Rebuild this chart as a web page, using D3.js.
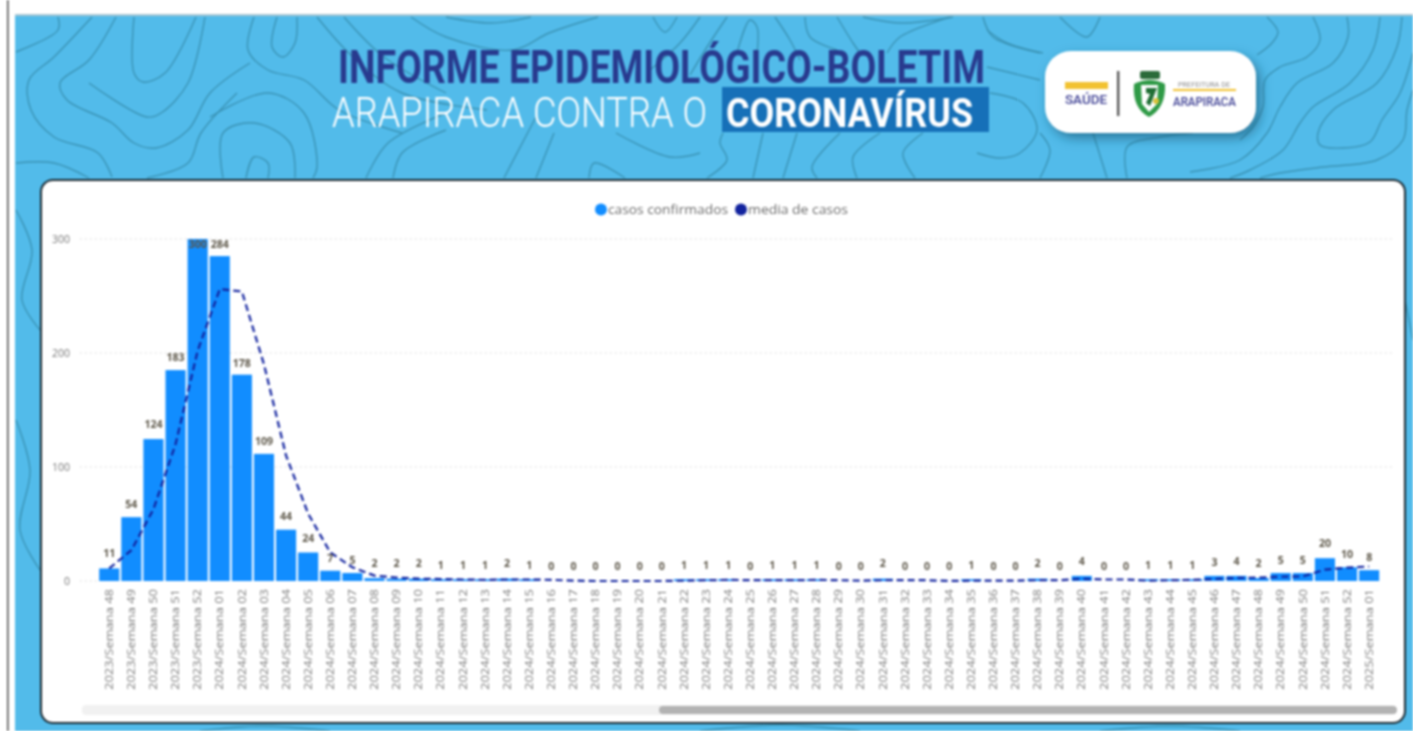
<!DOCTYPE html>
<html>
<head>
<meta charset="utf-8">
<script src="https://cdn.jsdelivr.net/npm/d3@7"></script>
<style>
html, body { margin: 0; padding: 0; background: #fff; overflow: hidden; }
svg { display: block; filter: blur(0.8px); }
</style>
</head>
<body>
<svg id="chart"></svg>
<script>
const width = 1413;
const height = 731;

// chart data
const categories = [
    "2023/Semana 48", "2023/Semana 49", "2023/Semana 50", "2023/Semana 51", "2023/Semana 52",
    "2024/Semana 01", "2024/Semana 02", "2024/Semana 03", "2024/Semana 04", "2024/Semana 05",
    "2024/Semana 06", "2024/Semana 07", "2024/Semana 08", "2024/Semana 09", "2024/Semana 10",
    "2024/Semana 11", "2024/Semana 12", "2024/Semana 13", "2024/Semana 14", "2024/Semana 15",
    "2024/Semana 16", "2024/Semana 17", "2024/Semana 18", "2024/Semana 19", "2024/Semana 20",
    "2024/Semana 21", "2024/Semana 22", "2024/Semana 23", "2024/Semana 24", "2024/Semana 25",
    "2024/Semana 26", "2024/Semana 27", "2024/Semana 28", "2024/Semana 29", "2024/Semana 30",
    "2024/Semana 31", "2024/Semana 32", "2024/Semana 33", "2024/Semana 34", "2024/Semana 35",
    "2024/Semana 36", "2024/Semana 37", "2024/Semana 38", "2024/Semana 39", "2024/Semana 40",
    "2024/Semana 41", "2024/Semana 42", "2024/Semana 43", "2024/Semana 44", "2024/Semana 45",
    "2024/Semana 46", "2024/Semana 47", "2024/Semana 48", "2024/Semana 49", "2024/Semana 50",
    "2024/Semana 51", "2024/Semana 52", "2025/Semana 01"
];
// the numbers printed over the bars
const rotulos = [
    11, 54, 124, 183, 300, 284, 178, 109, 44, 24, 7, 5, 2, 2, 2, 1, 1, 1, 2, 1,
    0, 0, 0, 0, 0, 0, 1, 1, 1, 0, 1, 1, 1, 0, 0, 2, 0, 0, 0, 1,
    0, 0, 2, 0, 4, 0, 0, 1, 1, 1, 3, 4, 2, 5, 5, 20, 10, 8
];
// bar heights as measured, a little over the printed number in places
const casos = [
    11, 56, 124.5, 185, 300, 285, 181, 111.5, 45, 25, 9, 7, 2.5, 2, 2, 1.5, 1.5, 1.5, 2, 1.5,
    0, 0, 0, 0, 0, 0, 1.5, 1.5, 1.5, 0, 1.5, 1.5, 1.5, 0, 0, 2, 0, 0, 0, 1.5,
    0, 0, 2, 0, 4.5, 0, 0, 1.5, 1.5, 1.5, 4.5, 4.5, 2.5, 7, 7, 20, 12, 9.5
];
const media = [
    11, 27, 63, 120, 202, 256, 254, 190, 110, 59, 25, 12, 4.7, 3, 2, 1.7, 1.3, 1, 1.3, 1.3,
    1, 0.3, 0, 0, 0, 0, 0.3, 0.7, 1, 0.7, 0.7, 0.7, 1, 0.7, 0.3, 0.7, 0.7, 0.7, 0, 0.3,
    0.3, 0.3, 0.7, 0.7, 2, 1.3, 1.3, 0.3, 0.7, 1, 1.7, 2.7, 3, 3.7, 4, 10, 11.7, 12.7
];
const yTicks = [0, 100, 200, 300];

// decorative contour lines of the banner background
const contours = [
    [[16,52],[58,30],[58,17]],
    [[92,17],[54,57],[29,80],[31,110],[54,137],[98,153],[112,177]],
    [[116,17],[89,60],[60,83],[67,100],[112,123],[134,143],[156,148],[188,130],[210,93],[250,63]],
    [[134,17],[134,73],[143,82],[165,73],[196,17]],
    [[89,83],[147,117],[161,113],[188,83],[205,17]],
    [[277,17],[272,47],[283,57],[295,43],[297,17]],
    [[254,17],[248,50],[268,70],[304,80],[339,110],[402,133]],
    [[317,17],[353,57],[402,93],[487,110]],
    [[344,17],[384,57],[446,93]],
    [[411,17],[446,37],[513,50],[549,33],[598,17]],
    [[446,17],[491,23],[531,17]],
    [[210,117],[268,93],[304,113],[317,167],[313,178]],
    [[223,178],[223,133],[254,123],[290,143],[295,178]],
    [[246,178],[254,157],[268,163],[268,178]],
    [[147,178],[188,163],[201,133],[237,93]],
    [[16,163],[54,163],[89,178]],
    [[366,178],[388,143],[446,113]],
    [[393,178],[402,153],[446,130]],
    [[589,178],[594,163],[625,178]],
    [[616,133],[670,157],[700,153]],
    [[536,117],[504,178]],
    [[554,133],[536,178]],
    [[653,17],[665,32],[677,17]],
    [[700,17],[680,43],[650,70]],
    [[727,17],[707,47],[690,75]],
    [[737,53],[750,20],[757,27],[757,53]],
    [[775,17],[790,40],[800,60]],
    [[805,17],[810,37],[837,50]],
    [[837,17],[853,43],[860,53]],
    [[863,17],[900,23],[953,17]],
    [[950,17],[900,37],[887,53]],
    [[983,17],[993,37],[1040,53]],
    [[987,67],[1040,80]],
    [[990,93],[1023,103],[1037,130],[1020,153],[1000,158],[977,153]],
    [[840,133],[812,167],[817,178]],
    [[763,133],[753,178]],
    [[797,133],[783,178]],
    [[723,133],[720,143],[727,160],[707,178]],
    [[880,133],[853,157],[857,178]],
    [[923,133],[903,153],[915,178]],
    [[987,30],[1007,43],[1043,53]],
    [[1060,17],[1087,37],[1100,17]],
    [[1093,133],[1107,178]],
    [[1127,178],[1127,147],[1160,137],[1193,133]],
    [[1040,133],[1050,150],[1040,178]],
    [[1267,17],[1278,32],[1272,43],[1257,55]],
    [[1313,17],[1320,40],[1307,57],[1280,67],[1265,80],[1263,107],[1253,127],[1240,140]],
    [[1347,17],[1348,37],[1333,63],[1297,83],[1280,107],[1267,133],[1240,160],[1190,172]],
    [[1380,17],[1373,50],[1350,83],[1313,107],[1300,123],[1283,150],[1250,170],[1230,178]],
    [[1402,17],[1397,47],[1377,83],[1333,110],[1318,133],[1320,145],[1343,148],[1370,142],[1382,120],[1400,93],[1413,53]],
    [[1413,90],[1407,110],[1403,140],[1377,160],[1323,167],[1280,173],[1260,178]],
    [[16,210],[32,250],[22,300],[40,330]],
    [[16,420],[30,470],[20,530],[40,570]],
    [[1405,300],[1413,340]],
    [[200,731],[260,726],[330,731]],
    [[700,731],[780,725],[860,731]],
    [[1100,731],[1170,726],[1240,731]]
];

const svg = d3.select("#chart")
    .attr("width", width)
    .attr("height", height);

// page background and banner
svg.append("rect").attr("width", width).attr("height", height).attr("fill", "#fff");
svg.append("rect").attr("x", 7).attr("y", 0).attr("width", 1.6).attr("height", height).attr("fill", "#555");
svg.append("rect").attr("x", 15).attr("y", 14).attr("width", width - 15).attr("height", height - 14).attr("fill", "#52bbea");
svg.append("rect").attr("x", 15).attr("y", 14).attr("width", width - 15).attr("height", 2).attr("fill", "#a9c6d3");

const contourLine = d3.line().curve(d3.curveCatmullRom.alpha(0.5));
svg.append("g")
    .selectAll("path")
    .data(contours)
    .enter()
    .append("path")
    .attr("d", contourLine)
    .attr("fill", "none")
    .attr("stroke", "#3a93b5")
    .attr("stroke-width", 1.4);

// title
svg.append("text")
    .attr("x", 338).attr("y", 83)
    .attr("textLength", 647).attr("lengthAdjust", "spacingAndGlyphs")
    .style("font", "700 46px Roboto")
    .attr("fill", "#283a8e")
    .text("INFORME EPIDEMIOLÓGICO-BOLETIM");
svg.append("text")
    .attr("x", 332).attr("y", 127)
    .attr("textLength", 375).attr("lengthAdjust", "spacingAndGlyphs")
    .style("font", "300 43px Roboto")
    .attr("fill", "#fff")
    .text("ARAPIRACA CONTRA O");
svg.append("rect").attr("x", 722).attr("y", 87).attr("width", 267).attr("height", 45).attr("fill", "#1670b8");
svg.append("text")
    .attr("x", 726).attr("y", 127)
    .attr("textLength", 247).attr("lengthAdjust", "spacingAndGlyphs")
    .style("font", "700 41px Roboto")
    .attr("fill", "#fff")
    .text("CORONAVÍRUS");

// logo badge
const defs = svg.append("defs");
const shadow = defs.append("filter").attr("id", "logoShadow")
    .attr("x", "-20%").attr("y", "-30%").attr("width", "140%").attr("height", "170%");
shadow.append("feDropShadow")
    .attr("dx", 4).attr("dy", 5).attr("stdDeviation", 6)
    .attr("flood-color", "#1d5b78").attr("flood-opacity", 0.7);

const logo = svg.append("g");
logo.append("rect")
    .attr("x", 1045).attr("y", 51).attr("width", 211).attr("height", 82).attr("rx", 26)
    .attr("fill", "#fff").attr("filter", "url(#logoShadow)");
logo.append("rect").attr("x", 1065).attr("y", 82).attr("width", 43).attr("height", 7).attr("fill", "#f2c230");
logo.append("text")
    .attr("x", 1065).attr("y", 104)
    .attr("textLength", 42).attr("lengthAdjust", "spacingAndGlyphs")
    .style("font", "500 13px Roboto").attr("fill", "#3f4194").text("SAÚDE");
logo.append("rect").attr("x", 1117).attr("y", 71).attr("width", 2.4).attr("height", 45).attr("fill", "#555");
logo.append("path")
    .attr("d", "M1134,84 Q1132,108 1149,117 Q1166,108 1165,84 Q1150,76 1134,84 Z")
    .attr("fill", "#2f9a46");
logo.append("path")
    .attr("d", "M1141,85 L1158,85 L1157,104 L1149,112 L1142,104 Z")
    .attr("fill", "#fff");
logo.append("path")
    .attr("d", "M1146,88 L1157,88 L1150,106 L1146,103 L1150,94 L1146,93 Z")
    .attr("fill", "#1f6e34");
logo.append("circle").attr("cx", 1156).attr("cy", 101).attr("r", 3).attr("fill", "#d9c23a");
logo.append("rect").attr("x", 1140).attr("y", 71).attr("width", 20).attr("height", 8).attr("rx", 2).attr("fill", "#2b6b3a");
logo.append("text")
    .attr("x", 1178).attr("y", 86.5)
    .attr("textLength", 52).attr("lengthAdjust", "spacingAndGlyphs")
    .style("font", "400 7px Roboto").attr("fill", "#8a8a8a").text("PREFEITURA DE");
logo.append("rect").attr("x", 1173).attr("y", 89).attr("width", 63).attr("height", 2).attr("fill", "#f2c230");
logo.append("text")
    .attr("x", 1173).attr("y", 106)
    .attr("textLength", 63).attr("lengthAdjust", "spacingAndGlyphs")
    .style("font", "500 13px Roboto").attr("fill", "#3f4194").text("ARAPIRACA");

// white card of the chart
svg.append("rect")
    .attr("x", 41).attr("y", 180).attr("width", 1364).attr("height", 543).attr("rx", 12)
    .attr("fill", "#fff").attr("stroke", "#1d2b33").attr("stroke-width", 2);

// scales
const x = d3.scaleBand()
    .domain(categories)
    .range([98.2, 1380.2])
    .paddingInner(0.09)
    .paddingOuter(0.045);
const y = d3.scaleLinear()
    .domain([0, 300])
    .range([581, 239]);

// gridlines
svg.append("g")
    .selectAll("line")
    .data(yTicks.slice(1))
    .enter()
    .append("line")
    .attr("x1", 80).attr("x2", 1395)
    .attr("y1", d => y(d)).attr("y2", d => y(d))
    .attr("stroke", "#d4d4d4")
    .attr("stroke-width", 1.2)
    .attr("stroke-dasharray", "1.5,3.5");
svg.append("line")
    .attr("x1", 80).attr("x2", 97).attr("y1", y(0)).attr("y2", y(0))
    .attr("stroke", "#d4d4d4").attr("stroke-width", 1.2).attr("stroke-dasharray", "1.5,3.5");

// y axis
const yAxis = svg.append("g")
    .attr("transform", "translate(80,0)")
    .call(d3.axisLeft(y).tickValues(yTicks).tickSize(0).tickPadding(10));
yAxis.select(".domain").remove();
yAxis.selectAll("text")
    .style("font", "400 10.5px 'Open Sans'")
    .attr("fill", "#777");

// x axis, labels turned upright
const xAxis = svg.append("g")
    .attr("transform", "translate(0,581)")
    .call(d3.axisBottom(x).tickSize(0));
xAxis.select(".domain").remove();
xAxis.selectAll("text")
    .attr("transform", "rotate(-90)")
    .attr("x", -8)
    .attr("y", 0)
    .attr("dy", "0.35em")
    .attr("text-anchor", "end")
    .attr("textLength", 101)
    .attr("lengthAdjust", "spacingAndGlyphs")
    .style("font", "400 10.5px 'Open Sans'")
    .attr("fill", "#7d7d7d");

// bars
svg.append("g")
    .selectAll("rect")
    .data(casos)
    .enter()
    .append("rect")
    .attr("x", (d, i) => x(categories[i]))
    .attr("y", d => y(d))
    .attr("width", x.bandwidth())
    .attr("height", d => y(0) - y(d))
    .attr("fill", "#118dff");

// mean line
const meanLine = d3.line()
    .x((d, i) => x(categories[i]) + x.bandwidth() / 2)
    .y(d => y(d));
svg.append("path")
    .datum(media)
    .attr("d", meanLine)
    .attr("fill", "none")
    .attr("stroke", "#12239e")
    .attr("stroke-width", 2.2)
    .attr("stroke-dasharray", "7,4");

// value labels, kept inside the plot at the top
svg.append("g")
    .selectAll("text")
    .data(rotulos)
    .enter()
    .append("text")
    .attr("x", (d, i) => x(categories[i]) + x.bandwidth() / 2)
    .attr("y", d => Math.max(y(d) - 15, 244))
    .attr("dy", "0.35em")
    .attr("text-anchor", "middle")
    .style("font", "700 10.5px 'Open Sans'")
    .attr("fill", "#5c5648")
    .text(d => d);

// legend
const legendItems = [
    { label: "casos confirmados", color: "#118dff", dot: 601, text: 608, len: 120 },
    { label: "media de casos", color: "#12239e", dot: 741, text: 748, len: 100 }
];
const legend = svg.append("g");
legendItems.forEach(function (d) {
    legend.append("circle").attr("cx", d.dot).attr("cy", 209.5).attr("r", 6).attr("fill", d.color);
    legend.append("text")
        .attr("x", d.text).attr("y", 214)
        .attr("textLength", d.len).attr("lengthAdjust", "spacingAndGlyphs")
        .style("font", "400 13px 'Open Sans'")
        .attr("fill", "#6b6b6b")
        .text(d.label);
});

// scrollbar
svg.append("rect").attr("x", 82).attr("y", 705).attr("width", 1314).attr("height", 10).attr("rx", 4).attr("fill", "#f1f1f1");
svg.append("rect").attr("x", 659).attr("y", 706).attr("width", 738).attr("height", 8).attr("rx", 4).attr("fill", "#b3b3b3");
</script>
</body>
</html>
